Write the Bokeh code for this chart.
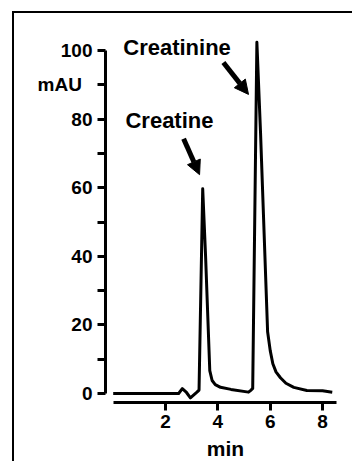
from bokeh.plotting import figure
from bokeh.models import (Range1d, FixedTicker, Label, Arrow, NormalHead, ColumnDataSource, LinearAxis)
from bokeh.embed import file_html
from bokeh.resources import INLINE

# Chromatogram trace (min, mAU)
time_min = [0.0, 2.5, 2.64, 2.8, 2.95, 3.2, 3.28, 3.42, 3.53, 3.69, 3.78, 3.9, 4.1, 4.5, 5.17,
            5.27, 5.33, 5.49, 5.63, 5.9, 6.0, 6.1, 6.22, 6.39, 6.6, 6.9, 7.4, 8.0, 8.37]
absorb_mau = [0.0, 0.0, 1.4, 0.3, -1.25, 0.4, 1.0, 59.7, 40.0, 6.7, 3.8, 2.6, 1.8, 1.2, 0.4,
              1.0, 1.5, 102.4, 76.0, 18.0, 12.5, 8.7, 6.3, 4.6, 3.0, 1.8, 0.9, 0.8, 0.4]

x_ticks = [2, 4, 6, 8]
y_ticks = [0, 20, 40, 60, 80, 90, 100]
y_minor = [10, 30, 50, 70]
y_tick_labels = {90: "mAU\u00a0\u00a0"}

peak_names = ["Creatine", "Creatinine"]
x_title = "min"

FONT = "Liberation Sans"

p = figure(width=340, height=450, output_backend="svg", toolbar_location=None,
           x_range=Range1d(-0.294, 8.876), y_range=Range1d(-2.62, 103.5),
           min_border_left=91, min_border_right=9, min_border_top=25, min_border_bottom=61,
           margin=(13, 0, 0, 14))
# panel frame line (top and left) drawn as an offset shadow, which does not change the layout
p.styles = {"box-shadow": "-2px -2px 0 0 black"}
p.outline_line_color = None
p.xgrid.visible = False
p.ygrid.visible = False
p.background_fill_color = "white"
p.border_fill_color = "white"

src = ColumnDataSource(dict(t=time_min, a=absorb_mau))
p.line("t", "a", source=src, line_color="black", line_width=3, line_join="round")

for ax in (p.xaxis[0], p.yaxis[0]):
    ax.axis_line_width = 3
    ax.axis_line_color = "black"
    ax.major_tick_line_width = 3
    ax.minor_tick_line_width = 3
    ax.major_tick_line_color = "black"
    ax.minor_tick_line_color = "black"
    ax.major_tick_in = 0
    ax.minor_tick_in = 0
    ax.major_tick_out = 8
    ax.minor_tick_out = 8
    ax.major_label_text_font = FONT
    ax.major_label_text_font_style = "bold"
    ax.major_label_text_font_size = "19px"
    ax.major_label_text_color = "black"

p.xaxis[0].ticker = FixedTicker(ticks=x_ticks)
p.xaxis[0].bounds = (0, 8.55)
p.xaxis[0].major_label_standoff = 4
p.yaxis[0].ticker = FixedTicker(ticks=y_ticks, minor_ticks=y_minor)
p.yaxis[0].bounds = (0, 100)
p.yaxis[0].major_label_standoff = 5
p.yaxis[0].major_label_overrides = y_tick_labels

# x-axis title on a second, otherwise invisible axis so it can be centred under 4 min
title_axis = LinearAxis(ticker=FixedTicker(ticks=[]), bounds=(0, 7.6), axis_line_color=None,
                        major_tick_line_color=None, minor_tick_line_color=None,
                        axis_label=x_title, axis_label_text_font=FONT,
                        axis_label_text_font_style="bold", axis_label_text_font_size="21px",
                        axis_label_text_color="black", axis_label_standoff=6)
p.add_layout(title_axis, "below")

# Peak labels and arrows
p.add_layout(Label(x=2.15, y=79.6, text=peak_names[0], text_font=FONT, text_font_style="bold",
                   text_font_size="22px", text_color="black", text_align="center",
                   text_baseline="middle"))
p.add_layout(Label(x=2.44, y=101.0, text=peak_names[1], text_font=FONT, text_font_style="bold",
                   text_font_size="22px", text_color="black", text_align="center",
                   text_baseline="middle"))
for (x0, y0, x1, y1) in [(2.69, 74.3, 3.30, 63.8), (4.21, 96.5, 5.17, 87.2)]:
    p.add_layout(Arrow(x_start=x0, y_start=y0, x_end=x1, y_end=y1, line_width=5, line_color="black",
                       end=NormalHead(size=14, fill_color="black", line_color="black")))

open("out.html", "w").write(file_html(p, INLINE))
